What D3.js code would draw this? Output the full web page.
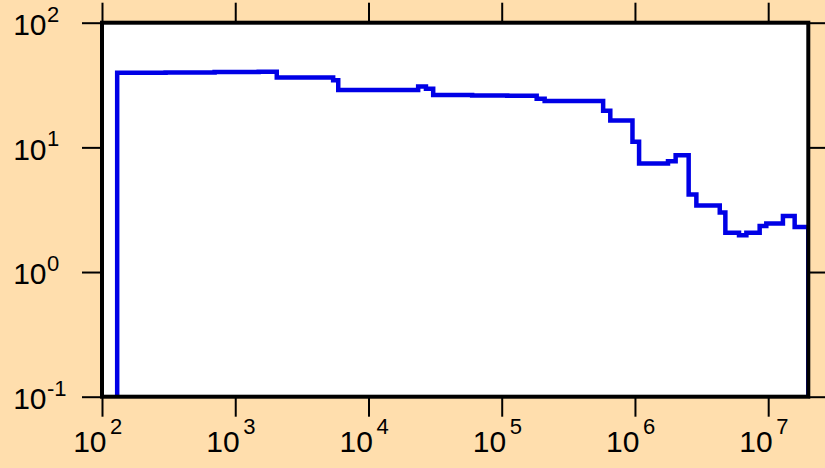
<!DOCTYPE html>
<html>
<head>
<meta charset="utf-8">
<script src="https://cdn.jsdelivr.net/npm/d3@7"></script>
<style>
  html, body { margin: 0; padding: 0; background: #ffdead; }
  svg { display: block; }
</style>
</head>
<body>
<svg id="chart" width="825" height="468"></svg>
<script>
// ---- data ----
// histogram bin edges (x) and bin values (y)
const binEdges = [130, 300, 700, 1500, 2050, 5430, 5930, 23600, 27000, 30600, 60000, 110000, 183000,
  210000, 577000, 653000, 958000, 1074000, 1770000, 2020000, 2530000, 2890000, 4330000, 4770000,
  6040000, 6860000, 8630000, 9680000, 12900000, 15800000, 20000000];
const binValues = [39.6, 39.9, 40.2, 40.5, 36.4, 34.5, 28.9, 30.8, 29.5, 26.3, 26.1, 25.9,
  24.5, 23.6, 19.7, 16.4, 11.1, 7.41, 7.73, 8.66, 4.18, 3.42, 3.00, 2.07, 1.97, 2.07,
  2.34, 2.45, 2.82, 2.30];
const xTickValues = [1e2, 1e3, 1e4, 1e5, 1e6, 1e7];
const xTickExponents = ["2", "3", "4", "5", "6", "7"];
const yTickValues = [1e-1, 1e0, 1e1, 1e2];
const yTickExponents = ["-1", "0", "1", "2"];
const xDomain = [100, 2e7];
const yDomain = [0.1, 100];

// ---- layout ----
const pLeft = 102, pRight = 808.3, pTop = 22.7, pBottom = 396.7;
const svg = d3.select("#chart");

const x = d3.scaleLog().domain(xDomain).range([pLeft, pRight]);
const y = d3.scaleLog().domain(yDomain).range([pBottom, pTop]);

svg.append("rect").attr("x", pLeft).attr("y", pTop)
  .attr("width", pRight - pLeft).attr("height", pBottom - pTop).attr("fill", "#ffffff");

svg.append("clipPath").attr("id", "clip").append("rect")
  .attr("x", pLeft).attr("y", pTop).attr("width", pRight - pLeft).attr("height", pBottom - pTop);

// step path built from arrays
const pts = [];
pts.push([binEdges[0], yDomain[0]]);
binValues.forEach((v, i) => {
  pts.push([binEdges[i], v]);
  pts.push([binEdges[i + 1], v]);
});
pts.push([binEdges[binEdges.length - 1], yDomain[0]]);

const line = d3.line().x(d => x(d[0])).y(d => y(d[1]));
svg.append("path").datum(pts)
  .attr("d", line)
  .attr("fill", "none")
  .attr("stroke", "#0000e6")
  .attr("stroke-width", 4.5)
  .attr("stroke-linejoin", "miter")
  .attr("clip-path", "url(#clip)");

// axes (outward ticks on all four sides)
const tickLen = 20;
const gx = svg.append("g").attr("transform", `translate(0,${pBottom})`)
  .call(d3.axisBottom(x).tickValues(xTickValues).tickSize(tickLen).tickFormat(""));
const gxt = svg.append("g").attr("transform", `translate(0,${pTop})`)
  .call(d3.axisTop(x).tickValues(xTickValues).tickSize(tickLen).tickFormat(""));
const gy = svg.append("g").attr("transform", `translate(${pLeft},0)`)
  .call(d3.axisLeft(y).tickValues(yTickValues).tickSize(tickLen).tickFormat(""));
const gyr = svg.append("g").attr("transform", `translate(${pRight},0)`)
  .call(d3.axisRight(y).tickValues(yTickValues).tickSize(tickLen).tickFormat(""));
[gx, gxt, gy, gyr].forEach(g => {
  g.select(".domain").remove();
  g.selectAll(".tick line").attr("stroke", "#000").attr("stroke-width", 2);
});

// frame
svg.append("rect").attr("x", pLeft).attr("y", pTop)
  .attr("width", pRight - pLeft).attr("height", pBottom - pTop)
  .attr("fill", "none").attr("stroke", "#000").attr("stroke-width", 4);

// tick labels
const font = "'Liberation Sans', Arial, sans-serif";
xTickValues.forEach((v, i) => {
  const tx = x(v);
  svg.append("text").attr("x", tx + 4.5).attr("y", 452)
    .attr("text-anchor", "end").attr("font-family", font).attr("font-size", 30)
    .attr("fill", "#000").text("10");
  svg.append("text").attr("x", tx + 8).attr("y", 434)
    .attr("text-anchor", "start").attr("font-family", font).attr("font-size", 22)
    .attr("fill", "#000").text(xTickExponents[i]);
});
yTickValues.forEach((v, i) => {
  const ty = y(v);
  svg.append("text").attr("x", 46.5).attr("y", ty + 12.3)
    .attr("text-anchor", "end").attr("font-family", font).attr("font-size", 30)
    .attr("fill", "#000").text("10");
  svg.append("text").attr("x", 47).attr("y", ty - 1)
    .attr("text-anchor", "start").attr("font-family", font).attr("font-size", 22)
    .attr("fill", "#000").text(yTickExponents[i]);
});
</script>
</body>
</html>
